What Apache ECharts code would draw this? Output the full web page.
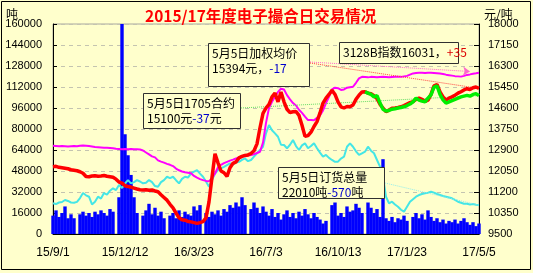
<!DOCTYPE html>
<html><head><meta charset="utf-8">
<script src="https://cdn.jsdelivr.net/npm/echarts@6/dist/echarts.min.js"></script>
<style>html,body{margin:0;padding:0;background:#ffffcc}#c{width:533px;height:273px}</style>
</head><body><div id="c"></div>
<script>
const tickLabels = ['15/9/1','15/12/12','16/3/23','16/7/3','16/10/13','17/1/23','17/5/5'];

// 订货量 (吨) - bars, left axis
const volume = [
14000,18000,13000,16000,21000,12000,15000,12000,0,15000,
17000,14000,16000,13000,17000,15000,18000,16000,14000,19000,
17000,0,28000,160000,76000,60000,45000,28000,16000,0,
14000,18000,23000,15000,20000,14000,17000,12000,0,14000,
16000,12000,18000,13000,17000,15000,14000,21000,18000,22000,
0,16000,13000,17000,15000,18000,14000,19000,17000,22000,
20000,24000,21000,28000,22000,0,19000,24000,20000,16000,
21000,17000,14000,19000,13000,16000,11000,15000,18000,13000,
16000,12000,17000,14000,19000,15000,12000,16000,13000,11000,
8000,10000,0,22000,24000,14000,16000,13000,21000,17000,
18000,23000,20000,16000,0,24000,20000,16000,19000,13000,
57000,12000,10000,13000,9000,12000,11000,14000,10000,0,
13000,16000,12000,15000,11000,18000,13000,10000,12000,9000,
11000,8000,10000,9000,11000,8000,10000,12000,9000,7000,
9000,6000,8000];

// 订货总量 (吨) - cyan, left axis
const totalOrder = [
23400,22800,24000,24400,25900,25200,24000,23800,24500,27400,
31200,29500,28400,22500,24500,28400,27000,31200,30000,33000,
34800,33500,37300,35000,38500,41100,38600,39500,41100,40000,
38600,39000,41100,39500,36500,36000,39500,41100,43600,42500,
43600,41000,38600,42000,43600,43000,46200,47500,48700,46000,
43600,40000,36000,41000,46000,48700,50000,51200,52500,53800,
53000,54500,55000,56500,57600,55500,56400,59000,61500,64000,
66500,76700,83000,79000,76700,74100,68000,67800,65300,68000,
71600,67000,64000,67500,69100,65300,67000,69100,65300,62000,
58900,60200,58000,56400,55000,55100,57500,58900,66500,69100,
66500,63000,60200,61500,62700,66500,63500,61500,56400,51300,
43600,28400,23400,24600,22500,20800,18500,17000,20800,24600,
26500,28400,29700,30500,31000,31500,32200,31500,30500,29700,
28900,28400,27800,27200,26000,24600,23800,23000,23000,22500,
22800,22300,22010];

// 3128B指数 (元/吨) - magenta, right axis
const index3128B = [
13070,13060,13050,13060,13050,13040,13050,13060,13050,13070,
13080,13070,13060,13040,13020,13010,13000,12990,12990,12980,
12970,12950,12940,12930,12940,12930,12940,12930,12930,12920,
12880,12800,12720,12640,12600,12480,12430,12390,12340,12300,
12250,12150,12080,12030,12000,11980,11960,11850,11780,11720,
11680,11650,11640,11760,11950,12200,12300,12370,12420,12470,
12510,12560,12600,12640,12660,12680,12700,12730,12780,12830,
13200,14000,14600,14850,15060,15250,15380,15350,15120,14950,
14800,14700,14530,14400,14250,14110,14110,14100,14200,14300,
14500,14800,15050,15350,15420,15400,15330,15350,15420,15440,
15460,15620,15800,15860,15850,15840,15860,15850,15840,15850,
15860,15850,15840,15850,15860,15870,15860,15880,15900,15950,
16000,16020,16030,16030,16020,16030,16030,16020,16010,16000,
15980,15950,15930,15910,15890,15880,15870,15900,15940,15960,
15990,16010,16031];

// 加权均价 (元/吨) - red, right axis
const weightedPrice = [
12220,12240,12200,12180,12160,12140,12100,12080,12060,12020,
11960,11830,11820,11850,11860,11840,11850,11870,11840,11820,
11800,11720,11600,11560,11450,11420,11400,11360,11320,11290,
11280,11290,11270,11280,11240,11210,11090,10980,10870,10700,
10560,10350,10160,10080,10060,10010,9990,9960,9930,9960,
10000,10150,10800,11800,12750,12380,12050,11980,11830,12180,
12360,12420,12580,12640,12680,12700,12760,12870,13150,13800,
14380,14600,14750,15050,15200,14850,15250,14850,14550,14420,
14450,14460,14300,13900,13450,13480,13620,13850,14050,14400,
14800,15000,15150,15320,15150,14850,14650,14600,14660,14650,
14720,14950,15120,15250,15260,15200,15180,15100,14980,14750,
14600,14450,14520,14590,14600,14620,14650,14700,14760,14820,
14860,14950,15000,14950,14870,14920,15150,15500,15550,15250,
15050,14920,15000,15050,15120,15200,15260,15330,15380,15350,
15420,15450,15394];

// 1705合约 (元/吨) - green, right axis
const contract1705 = [].concat(new Array(104).fill(null), [
15250,15200,15150,15050,15100,14800,
14550,14480,14500,14550,14570,14600,14620,14650,14700,14760,
14850,15000,14920,14880,14850,15000,15130,15450,15500,15150,
14930,14800,14850,14900,14950,15000,15050,15080,15110,15080,
15150,15180,15100]);

const N = volume.length;
const categories = new Array(N).fill('');
tickLabels.forEach((t, k) => { categories[Math.round(k * (N - 1) / (tickLabels.length - 1))] = t; });

const FONT = '"Noto Sans CJK SC", sans-serif';
function box(x, y, w, h, text, rich) {
  return {
    type: 'group', children: [
      { type: 'rect', shape: { x: x + 0.5, y: y + 0.5, width: w, height: h },
        style: { fill: '#ffffcc', stroke: '#303030', lineWidth: 1 }, z: 100 },
      { type: 'text', x: x + 4, y: y + 3, z: 101,
        style: { text: text, font: '12px ' + FONT, fill: '#000', lineHeight: 15, rich: rich } }
    ]
  };
}
const blue = { b: { fill: '#0000cc', font: '12px ' + FONT } };
const red = { r: { fill: '#dd0000', font: '12px ' + FONT } };
const plain = v => String(v);

const chart = echarts.init(document.getElementById('c'), null, { renderer: 'canvas' });
chart.setOption({
  animation: false,
  backgroundColor: '#ffffcc',
  title: {
    text: '2015/17年度电子撮合日交易情况', left: 145, top: 8, padding: 0,
    textStyle: { color: '#ff0000', fontSize: 15.5, fontWeight: 'bold', fontFamily: FONT }
  },
  grid: { left: 53, right: 54, top: 24, bottom: 39, show: true, borderColor: '#a8a8a0', borderWidth: 1 },
  xAxis: {
    type: 'category', data: categories, boundaryGap: false,
    axisLine: { lineStyle: { color: '#000' } }, axisTick: { show: false },
    axisLabel: { interval: (i, v) => v !== '', color: '#000', fontSize: 12, fontFamily: 'Liberation Sans', margin: 13 },
    splitLine: { show: false }
  },
  yAxis: [
    { type: 'value', min: 0, max: 160000, interval: 16000, position: 'left',
      axisLine: { show: true, lineStyle: { color: '#000' } },
      axisTick: { show: true, inside: true, length: 4, lineStyle: { color: '#000' } },
      axisLabel: { color: '#000', fontSize: 11, fontFamily: 'Liberation Sans', margin: 11, formatter: plain },
      splitLine: { show: true, lineStyle: { color: '#c4c4b0', type: [4, 4] } } },
    { type: 'value', min: 9500, max: 18000, interval: 850, position: 'right',
      axisLine: { show: true, lineStyle: { color: '#000' } },
      axisTick: { show: true, inside: true, length: 5, lineStyle: { color: '#000' } },
      axisLabel: { color: '#000', fontSize: 11, fontFamily: 'Liberation Sans', margin: 9, formatter: plain },
      splitLine: { show: false } }
  ],
  series: [
    { type: 'bar', yAxisIndex: 0, data: volume, barWidth: 3.4, itemStyle: { color: '#0000ff' }, z: 1 },
    { type: 'line', yAxisIndex: 0, data: totalOrder, showSymbol: false, lineStyle: { color: '#44e6e6', width: 2 }, itemStyle: { color: '#44e6e6' }, z: 3,
      markLine: { silent: true, symbol: 'none', label: { show: false },
        lineStyle: { color: '#90eeee', type: 'dotted', width: 1 },
        data: [[{ x: 385, y: 183 }, { coord: [N - 1, totalOrder[N - 1]] }]] } },
    { type: 'line', yAxisIndex: 1, data: index3128B, showSymbol: false, lineStyle: { color: '#ff00ff', width: 2 }, itemStyle: { color: '#ff00ff' }, z: 4,
      markLine: { silent: true, symbol: ['none', 'arrow'], symbolSize: 7, label: { show: false },
        lineStyle: { color: '#ff66cc', type: 'dotted', width: 1 },
        data: [[{ x: 310, y: 62 }, { x: 470, y: 71.5 }]] } },
    { type: 'line', yAxisIndex: 1, data: weightedPrice, showSymbol: false, lineStyle: { color: '#ff0000', width: 3.5 }, itemStyle: { color: '#ff0000' }, z: 5,
      markLine: { silent: true, symbol: 'none', label: { show: false },
        lineStyle: { color: '#ff4040', type: 'dotted', width: 1 },
        data: [[{ x: 310, y: 63 }, { coord: [N - 1, weightedPrice[N - 1]] }]] } },
    { type: 'line', yAxisIndex: 1, data: contract1705, showSymbol: false, connectNulls: false, lineStyle: { color: '#00ee00', width: 3.5 }, itemStyle: { color: '#00ee00' }, z: 6,
      markLine: { silent: true, symbol: 'none', label: { show: false },
        lineStyle: { color: '#66dd66', type: 'dotted', width: 1 },
        data: [[{ x: 241, y: 108 }, { coord: [N - 1, contract1705[N - 1]] }]] } }
  ],
  graphic: [
    { type: 'rect', shape: { x: 1.5, y: 1.5, width: 529, height: 268 }, style: { fill: 'none', stroke: '#000', lineWidth: 1 }, z: 50 },
    { type: 'text', x: 6, y: 8, style: { text: '吨', font: '12px ' + FONT, fill: '#000' } },
    { type: 'text', x: 484, y: 8, style: { text: '元/吨', font: '12px ' + FONT, fill: '#000' } },
    box(208, 43, 101, 43, '5月5日加权均价\n15394元，{b|-17}', blue),
    box(339, 42, 119, 21, '3128B指数16031，{r|+35}', red),
    box(143, 93, 97, 35, '5月5日1705合约\n15100元{b|-37}元', blue),
    box(278, 167, 106, 31, '5月5日订货总量\n22010吨{b|-570}吨', blue)
  ]
});
</script></body></html>
